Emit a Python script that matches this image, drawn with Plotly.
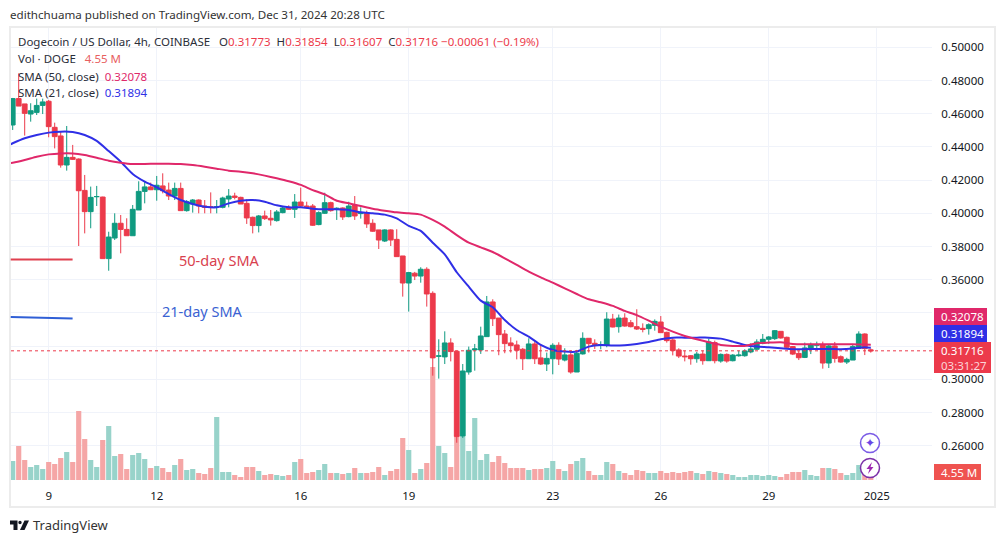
import pandas as pd
import plotly.graph_objects as go

# ---- data ----
opens = [.4532,.4691,.4659,.4598,.4608,.4650,.4675,.4518,.4466,.4291,
 .4337,.4327,.4138,.4010,.4100,.4098,.3727,.3851,.3940,.3903,
 .3865,.4020,.4132,.4159,.4142,.4165,.4140,.4104,.4150,.4016,
 .4056,.4080,.4044,.4040,.4036,.4036,.4086,.4104,.4096,.4060,
 .3976,.3926,.3984,.3970,.3956,.4004,.4036,.4024,.4068,.4044,
 .4044,.3932,.4000,.4064,.4026,.4032,.3980,.4050,.3998,.4000,
 .3940,.3900,.3833,.3900,.3843,.3743,.3580,.3639,.3622,.3663,
 .3518,.3139,.3135,.3219,.3169,.2659,.3044,.3177,.3177,.3257,
 .3466,.3369,.3273,.3219,.3207,.3181,.3124,.3213,.3129,.3092,
 .3124,.3205,.3116,.3147,.3044,.3153,.3247,.3217,.3205,.3205,
 .3363,.3317,.3369,.3341,.3317,.3307,.3305,.3325,.3345,.3283,
 .3237,.3177,.3140,.3142,.3124,.3152,.3112,.3221,.3110,.3150,
 .3112,.3142,.3142,.3165,.3181,.3217,.3241,.3245,.3289,.3253,
 .3197,.3156,.3132,.3185,.3205,.3207,.3098,.3201,.3136,.3104,
 .3116,.3187,.3273,.31773]
closes = [.4691,.4646,.4602,.4618,.4650,.4671,.4522,.4462,.4291,.4337,
 .4325,.4136,.4010,.4096,.4101,.3727,.3857,.3940,.3903,.3865,
 .4024,.4132,.4159,.4142,.4169,.4136,.4104,.4150,.4016,.4070,
 .4080,.4044,.4036,.4036,.4040,.4092,.4104,.4096,.4056,.3972,
 .3926,.3984,.3968,.3960,.4008,.4032,.4024,.4068,.4044,.4036,
 .3928,.4004,.4064,.4016,.4030,.3978,.4044,.3984,.4004,.3936,
 .3892,.3839,.3900,.3839,.3739,.3580,.3643,.3622,.3663,.3514,
 .3129,.3141,.3219,.3167,.2655,.3050,.3175,.3183,.3261,.3466,
 .3365,.3269,.3215,.3203,.3175,.3124,.3213,.3124,.3092,.3126,
 .3205,.3122,.3147,.3044,.3157,.3247,.3215,.3209,.3209,.3363,
 .3315,.3369,.3321,.3317,.3303,.3301,.3329,.3349,.3281,.3233,
 .3173,.3140,.3136,.3124,.3152,.3112,.3225,.3112,.3150,.3110,
 .3146,.3146,.3171,.3183,.3225,.3241,.3255,.3293,.3249,.3193,
 .3152,.3130,.3189,.3207,.3209,.3098,.3201,.3126,.3104,.3120,
 .3197,.3273,.3185,.31716]
highs = [.4695,.4843,.4659,.4663,.4691,.4691,.4683,.4546,.4492,.4526,
 .4412,.4331,.4231,.4161,.4165,.4100,.3889,.4000,.3990,.3970,
 .4050,.4193,.4191,.4185,.4225,.4241,.4185,.4185,.4185,.4080,
 .4086,.4084,.4080,.4126,.4080,.4100,.4146,.4124,.4100,.4084,
 .3980,.3990,.4016,.4020,.4020,.4044,.4048,.4116,.4155,.4070,
 .4056,.4012,.4124,.4070,.4036,.4036,.4070,.4104,.4036,.4016,
 .3964,.3900,.3904,.3904,.3904,.3743,.3647,.3647,.3675,.3675,
 .3530,.3241,.3289,.3247,.3173,.3092,.3197,.3213,.3317,.3502,
 .3482,.3369,.3297,.3253,.3233,.3189,.3247,.3227,.3213,.3161,
 .3217,.3223,.3187,.3173,.3177,.3283,.3247,.3241,.3229,.3404,
 .3394,.3390,.3398,.3357,.3422,.3337,.3337,.3361,.3381,.3287,
 .3247,.3187,.3173,.3146,.3165,.3173,.3245,.3233,.3156,.3156,
 .3152,.3173,.3181,.3217,.3241,.3273,.3261,.3297,.3289,.3257,
 .3201,.3173,.3221,.3221,.3227,.3227,.3207,.3225,.3144,.3130,
 .3209,.3289,.3277,.31854]
lows = [.4502,.4646,.4468,.4552,.4592,.4598,.4458,.4391,.4275,.4257,
 .4321,.3803,.3879,.3910,.4044,.3727,.3654,.3839,.3759,.3865,
 .3865,.4020,.4060,.4140,.4076,.4120,.4080,.4080,.4016,.4010,
 .4004,.4000,.4000,.4000,.4000,.4030,.4036,.4084,.4056,.3936,
 .3879,.3885,.3960,.3926,.3950,.4000,.4020,.3972,.4036,.4030,
 .3924,.3928,.3996,.4010,.3960,.3960,.3976,.3960,.3968,.3912,
 .3888,.3785,.3827,.3803,.3739,.3498,.3408,.3598,.3582,.3438,
 .3022,.3004,.3092,.3108,.2618,.2647,.3028,.3052,.3153,.3257,
 .3321,.3145,.3157,.3161,.3120,.3056,.3124,.3092,.3086,.3050,
 .3030,.3086,.3108,.3034,.3044,.3149,.3161,.3183,.3181,.3193,
 .3313,.3281,.3317,.3313,.3297,.3283,.3269,.3293,.3281,.3221,
 .3144,.3128,.3108,.3088,.3100,.3088,.3112,.3096,.3100,.3100,
 .3108,.3136,.3136,.3157,.3177,.3211,.3213,.3237,.3245,.3189,
 .3146,.3116,.3128,.3152,.3177,.3064,.3068,.3100,.3100,.3092,
 .3116,.3183,.3146,.31607]
volumes_m = [12.35,22.1,13,8.45,9.75,7.15,11.7,10.4,14.3,18.2,
 11.7,44.85,26.65,13,8.45,26,35.1,15.6,16.9,7.15,
 16.25,17.55,13.65,7.8,9.1,7.8,5.2,9.75,13.65,6.5,
 7.15,4.55,3.9,7.8,40.95,5.2,5.2,3.25,1.95,8.45,
 8.45,5.85,3.25,3.9,3.25,2.6,3.25,11.7,13.65,4.55,
 5.2,6.5,10.4,4.55,4.55,3.9,4.55,7.8,4.55,4.55,
 5.2,8.45,3.25,5.85,7.15,27.3,19.5,4.55,7.15,11.05,
 73.45,22.1,17.55,8.45,27.95,28.6,18.85,40.3,13,16.9,
 11.7,15.6,11.05,7.8,7.8,7.8,6.5,7.15,7.15,7.8,
 12.35,7.15,5.85,10.4,12.35,14.3,5.85,3.25,3.25,11.7,
 10.4,5.85,4.55,3.25,6.5,5.85,4.55,4.55,5.85,4.55,
 5.2,4.55,5.2,5.85,4.55,3.9,5.85,5.2,4.55,3.9,
 3.25,1.95,1.95,3.25,3.25,2.6,3.25,2.6,1.95,3.9,
 5.2,5.2,6.5,3.25,2.6,7.8,7.8,7.15,4.55,3.25,
 4.55,9.75,5.85,4.55]

sma_steps = [-1] + list(range(0, 143, 2)) + [143]
sma21 = [.4405,.4422,.4452,.4472,.4486,.4492,.4490,.4472,.4436,.4375,.4311,.4237,.4191,.4157,.4116,.4080,.4056,.4040,.4036,.4060,.4076,.4080,.4070,.4048,.4036,.4036,.4028,.4024,
 .4024,.4020,.4006,.4000,.3992,.3970,.3924,.3894,.3823,.3753,.3645,.3558,.3474,.3434,.3357,.3297,.3257,.3207,.3177,.3167,.3167,.3197,.3207,.3203,.3205,
 .3213,.3225,.3241,.3251,.3251,.3251,.3251,.3245,.3227,.3207,.3197,.3193,.3187,.3181,.3181,.3183,.3183,.3181,.3185,.3193,.31894]
sma50 = [.4301,.4305,.4321,.4341,.4355,.4361,.4361,.4351,.4335,.4317,.4305,.4297,.4297,.4299,.4299,.4297,.4291,.4281,.4269,.4257,.4251,.4241,.4227,.4211,.4193,.4171,.4140,.4114,
 .4076,.4060,.4044,.4028,.4016,.4006,.4000,.3992,.3960,.3920,.3869,.3823,.3795,.3767,.3729,.3689,.3649,.3614,.3582,.3548,.3514,.3482,.3464,.3442,.3412,
 .3387,.3353,.3317,.3287,.3261,.3241,.3223,.3207,.3201,.3201,.3217,.3221,.3223,.3213,.3211,.3211,.3211,.3211,.3211,.3209,.32078]

price_ticks = [.26,.28,.30,.32,.34,.36,.38,.40,.42,.44,.46,.48,.50]
price_labels = ["0.26000","0.28000","0.30000","","","0.36000","0.38000","0.40000","0.42000","0.44000","0.46000","0.48000","0.50000"]
date_ticks = ["2024-12-09","2024-12-12","2024-12-16","2024-12-19","2024-12-23","2024-12-26","2024-12-29","2025-01-01"]
date_labels = ["9","12","16","19","23","26","29","2025"]

# ---- styles ----
W, H = 1005, 543
L, R, T, B = 11, 932, 28, 480
FONT = "Noto Sans"
RED, GREEN = "#ec3a4b", "#0f9a80"
PINK, BLUE = "#e0286a", "#2f2fe6"
start = pd.Timestamp("2024-12-08 00:00")
times = pd.date_range(start, periods=len(opens), freq="4h")
sma_times = [start + pd.Timedelta(hours=4 * s) for s in sma_steps]

def xp(x): return (x - L) / (R - L)
def yp(y): return (B - y) / (B - T)

bar_colors = ["#98d3ca" if c >= o else "#f5a6a6" for o, c in zip(opens, closes)]

fig = go.Figure()
fig.add_trace(go.Bar(x=times, y=volumes_m, marker=dict(color=bar_colors, line_width=0), yaxis="y", showlegend=False))
fig.add_trace(go.Candlestick(x=times, open=opens, high=highs, low=lows, close=closes, yaxis="y2", showlegend=False,
    increasing=dict(line=dict(color=GREEN, width=1), fillcolor=GREEN),
    decreasing=dict(line=dict(color=RED, width=1), fillcolor=RED)))
fig.add_trace(go.Scatter(x=sma_times, y=sma21, mode="lines", yaxis="y2", showlegend=False,
    line=dict(color=BLUE, width=2, shape="spline", smoothing=0.6)))
fig.add_trace(go.Scatter(x=sma_times, y=sma50, mode="lines", yaxis="y2", showlegend=False,
    line=dict(color=PINK, width=2, shape="spline", smoothing=0.6)))

shapes, annos = [], []

def rect(x0, y0, x1, y1, fill, line=None, lw=0, layer="above"):
    shapes.append(dict(type="rect", xref="paper", yref="paper", x0=xp(x0), x1=xp(x1), y0=yp(y0), y1=yp(y1),
                       fillcolor=fill, line=dict(color=line or fill, width=lw), layer=layer))

def seg(x0, y0, x1, y1, color, lw=2):
    shapes.append(dict(type="line", xref="paper", yref="paper", x0=xp(x0), x1=xp(x1), y0=yp(y0), y1=yp(y1),
                       line=dict(color=color, width=lw), layer="above"))

def poly(points, fill):
    d = "M " + " L ".join(f"{xp(a):.5f},{yp(b):.5f}" for a, b in points) + " Z"
    shapes.append(dict(type="path", xref="paper", yref="paper", path=d, fillcolor=fill, line_width=0, layer="above"))

def circle(cx, cy, r, fill, line, lw=1.5):
    shapes.append(dict(type="circle", xref="paper", yref="paper", x0=xp(cx - r), x1=xp(cx + r), y0=yp(cy - r), y1=yp(cy + r),
                       fillcolor=fill, line=dict(color=line, width=lw), layer="above"))

def text(x, y, s, size=11.5, color="#2a2e39", anchor="left", family=FONT):
    annos.append(dict(xref="paper", yref="paper", x=xp(x), y=yp(y), text=s, showarrow=False, xanchor=anchor, yanchor="middle",
                      font=dict(size=size, color=color, family=family), borderpad=0, borderwidth=0))

# dashed last price
shapes.append(dict(type="line", xref="paper", yref="y2", x0=0, x1=1, y0=closes[-1], y1=closes[-1],
                   line=dict(color=RED, width=1, dash="dot"), layer="above"))
# frame
rect(10, 27, 995, 507, "rgba(0,0,0,0)", "#ececec", 2)
# annotation strokes
seg(10.7, 259.6, 72.6, 259.6, "#e0404f", 2)
seg(10.7, 317, 72.6, 318.6, "#2f5fd6", 2)
# price tags
rect(934, 308, 987, 325, PINK)
rect(934, 325, 987, 342, BLUE)
rect(934, 342, 991, 373, RED)
rect(934, 464, 981, 480, "#ef5350")
text(941, 316.5, "0.32078", color="white")
text(941, 333.5, "0.31894", color="white")
text(941, 350.5, "0.31716", color="white")
text(941, 365, "03:31:27", color="#fbd5d8")
text(941, 472.5, "4.55 M", color="white")
# icons
circle(870, 443, 9.5, "white", "#7a5be6")
text(870, 443, "✦", 12, "#6a45e5", "center", "DejaVu Sans")
circle(870, 468, 9.5, "white", "#7b2fa8")
poly([(872, 462), (866.5, 469), (869.5, 469), (868, 474), (873.5, 467), (870.5, 467)], "#9c27b0")
# logo
poly([(10, 520.5), (17.5, 520.5), (17.5, 530), (13.5, 530), (13.5, 524.5), (10, 524.5)], "#131722")
circle(20, 522.5, 1.7, "#131722", "#131722", 0)
poly([(24.5, 520.5), (29, 520.5), (24.5, 530), (20, 530)], "#131722")
text(33, 525, "TradingView", 13, "#333333")
# heading and status lines
text(10, 15, "edithchuama published on TradingView.com, Dec 31, 2024 20:28 UTC", 11.6, "#333333")
v = lambda s: f'<span style="color:{RED}">{s}</span>'
text(18, 41.5, "Dogecoin / US Dollar, 4h, COINBASE   O" + v("0.31773") + "  H" + v("0.31854") + "  L" + v("0.31607") + "  C" + v("0.31716") + " " + v("−0.00061 (−0.19%)"))
text(18, 58.5, 'Vol · DOGE   <span style="color:#e8605f">4.55 M</span>')
text(18, 76, f'SMA (50, close)  <span style="color:{PINK}">0.32078</span>')
text(18, 93, f'SMA (21, close)  <span style="color:{BLUE}">0.31894</span>')
text(179, 259.5, "50-day SMA", 14.5, "#d9414e")
text(162, 311, "21-day SMA", 14.5, "#3a62d2")

fig.update_layout(
    width=W, height=H, autosize=False, showlegend=False,
    margin=dict(l=L, r=W - R, t=T, b=H - B, pad=0),
    paper_bgcolor="white", plot_bgcolor="white",
    bargap=0.14, boxgap=0.2, boxgroupgap=0,
    font=dict(family=FONT, color="#131722", size=11.5),
    xaxis=dict(type="date", range=["2024-12-07 22:52", "2025-01-02 12:48"], rangeslider=dict(visible=False),
               tickmode="array", tickvals=date_ticks, ticktext=date_labels, showgrid=True, gridcolor="#f0f3fa", gridwidth=1,
               ticks="outside", ticklen=5, tickcolor="white", zeroline=False, showline=False, tickangle=0),
    yaxis=dict(range=[0, 293.8], showticklabels=False, showgrid=False, zeroline=False, ticks=""),
    yaxis2=dict(overlaying="y", side="right", range=[.23934, .51163], tickmode="array", tickvals=price_ticks, ticktext=price_labels,
                showgrid=True, gridcolor="#f0f3fa", gridwidth=1, zeroline=False, ticks="outside", ticklen=6, tickcolor="white", showline=False),
    shapes=shapes, annotations=annos,
)
fig.write_html("out.html", config=dict(displayModeBar=False),
               post_script="document.body.style.margin='0';document.documentElement.style.overflow='hidden';")
